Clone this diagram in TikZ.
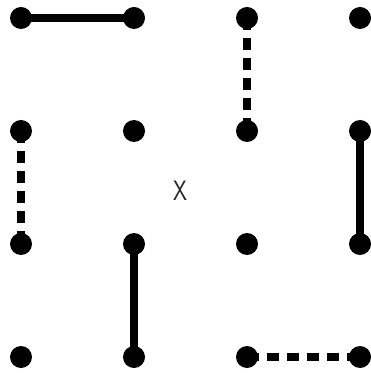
\documentclass[tikz,border=0pt]{standalone}
\usepackage{graphicx}
\usetikzlibrary{backgrounds}

\tikzset{
  dot/.style={circle, fill=black, inner sep=0pt, minimum size=16.5pt},
  link/.style={line width=6pt},
  dlink/.style={line width=6pt, dash pattern=on 9pt off 6pt}
}

\begin{document}
\begin{tikzpicture}[x=0.75pt, y=-0.75pt]

\useasboundingbox (0,0) rectangle (370,373);

% grid of dots
\foreach \i/\x in {0/21, 1/134, 2/247, 3/360} {
  \foreach \j/\y in {0/18, 1/131, 2/244, 3/357} {
    \node (d\i\j) [dot] at (\x,\y) {};
  }
}

\node (mark) [font=\sffamily\fontsize{21}{21}\selectfont, text=black!85, inner sep=0pt] at (180,191) {\scalebox{0.8}[1]{X}};

\begin{scope}[on background layer]
\draw[link] (d00.center) -- (d10.center);
\draw[dlink] (d20.center) -- (d21.center);
\draw[dlink] (d01.center) -- (d02.center);
\draw[link] (d31.center) -- (d32.center);
\draw[link] (d12.center) -- (d13.center);
\draw[dlink] (d23.center) -- (d33.center);
\end{scope}

\end{tikzpicture}
\end{document}
